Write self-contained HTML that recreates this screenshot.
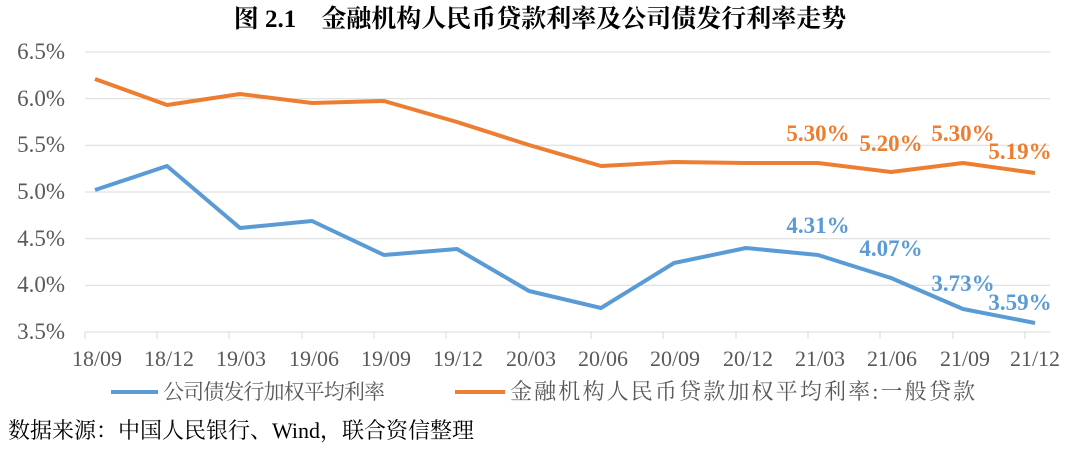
<!DOCTYPE html>
<html><head><meta charset="utf-8"><style>
body{margin:0;background:#fff;}
svg text{font-family:"Liberation Serif","Noto Serif CJK SC",serif;}
</style></head><body>
<svg width="1080" height="447" xmlns="http://www.w3.org/2000/svg">
<text x="540" y="27" text-anchor="middle" font-size="25" font-weight="bold" fill="#000">图 2.1　金融机构人民币贷款利率及公司债发行利率走势</text>
<g stroke="#d9d9d9" stroke-width="1">
<line x1="85" x2="1050" y1="52" y2="52"/><line x1="85" x2="1050" y1="98.7" y2="98.7"/>
<line x1="85" x2="1050" y1="145.3" y2="145.3"/><line x1="85" x2="1050" y1="192" y2="192"/>
<line x1="85" x2="1050" y1="238.7" y2="238.7"/><line x1="85" x2="1050" y1="285.3" y2="285.3"/>
<line x1="85" x2="1050" y1="332" y2="332"/>
</g>
<g stroke="#d9d9d9">
<line x1="85" x2="85" y1="332" y2="339"/><line x1="157" x2="157" y1="332" y2="339"/><line x1="229" x2="229" y1="332" y2="339"/><line x1="302" x2="302" y1="332" y2="339"/><line x1="374" x2="374" y1="332" y2="339"/><line x1="446" x2="446" y1="332" y2="339"/><line x1="519" x2="519" y1="332" y2="339"/><line x1="591" x2="591" y1="332" y2="339"/><line x1="663" x2="663" y1="332" y2="339"/><line x1="736" x2="736" y1="332" y2="339"/><line x1="808" x2="808" y1="332" y2="339"/><line x1="880" x2="880" y1="332" y2="339"/><line x1="953" x2="953" y1="332" y2="339"/><line x1="1025" x2="1025" y1="332" y2="339"/>
</g>
<g font-size="23" fill="#595959" text-anchor="end">
<text x="65" y="59">6.5%</text><text x="65" y="106">6.0%</text><text x="65" y="152">5.5%</text><text x="65" y="199">5.0%</text><text x="65" y="246">4.5%</text><text x="65" y="292">4.0%</text><text x="65" y="339">3.5%</text>
</g>
<g font-size="22" fill="#595959" text-anchor="middle">
<text x="97" y="366">18/09</text><text x="169" y="366">18/12</text><text x="241" y="366">19/03</text><text x="314" y="366">19/06</text><text x="386" y="366">19/09</text><text x="458" y="366">19/12</text><text x="531" y="366">20/03</text><text x="603" y="366">20/06</text><text x="675" y="366">20/09</text><text x="748" y="366">20/12</text><text x="820" y="366">21/03</text><text x="892" y="366">21/06</text><text x="965" y="366">21/09</text><text x="1035" y="366">21/12</text>
</g>
<polyline fill="none" stroke="#ed7d31" stroke-width="4" stroke-linejoin="round" points="95,79 167,105 240,94 312,103 384,101 457,122 529,145 601,166 674,162 746,163 818,163 891,172 963,163 1035,173"/>
<polyline fill="none" stroke="#5b9bd5" stroke-width="4" stroke-linejoin="round" points="95,190 167,166 240,228 312,221 384,255 457,249 529,291 601,308 674,263 746,248 818,255 891,278 963,309 1035,323"/>
<g font-size="23" font-weight="bold" fill="#ed7d31" text-anchor="middle">
<text x="818" y="141">5.30%</text><text x="891" y="151">5.20%</text><text x="963" y="141">5.30%</text><text x="1020" y="159">5.19%</text>
</g>
<g font-size="23" font-weight="bold" fill="#5b9bd5" text-anchor="middle">
<text x="818" y="233">4.31%</text><text x="891" y="256">4.07%</text><text x="963" y="291">3.73%</text><text x="1020" y="310">3.59%</text>
</g>
<line x1="111" x2="158" y1="392" y2="392" stroke="#5b9bd5" stroke-width="4"/>
<text x="163" y="399" font-size="21" fill="#595959" textLength="222" lengthAdjust="spacing">公司债发行加权平均利率</text>
<line x1="455" x2="505" y1="392" y2="392" stroke="#ed7d31" stroke-width="4"/>
<text x="510" y="399" font-size="22" fill="#595959" textLength="465" lengthAdjust="spacing">金融机构人民币贷款加权平均利率:一般贷款</text>
<text x="8" y="438" font-size="22" fill="#000">数据来源：中国人民银行、Wind，联合资信整理</text>
</svg>
</body></html>
